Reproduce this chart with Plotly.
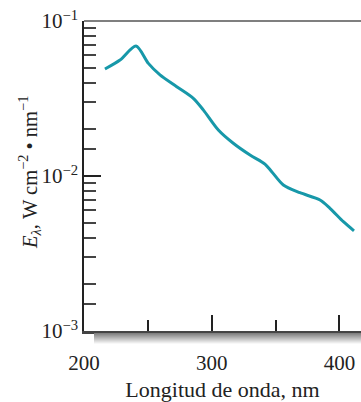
import plotly.graph_objects as go

# Data
wavelength = [216.4, 228.2, 240.7, 250.4, 259.5, 272.6, 285.6, 293.4, 305.2, 316.9,
              330.0, 341.7, 347.0, 356.1, 369.1, 384.8, 392.6, 403.1, 411.4]
irradiance = [0.0490, 0.0560, 0.0690, 0.0533, 0.0449, 0.0377, 0.0317, 0.0267, 0.0198, 0.01626,
              0.01365, 0.01194, 0.01066, 0.00875, 0.00780, 0.00700, 0.00619, 0.00507, 0.00443]

x_tick_vals = [200, 300, 400]
x_tick_text = ["200", "300", "400"]
x_minor_vals = [250, 350]
y_tick_vals = [0.001, 0.01, 0.1]
y_tick_text = ["10<sup>−3</sup>", "10<sup>−2</sup>", "10<sup>−1</sup>"]
y_minor_mult = [1.5, 2, 3, 4, 5, 6, 7, 8, 9]
y_minor_vals = [m * d for d in [0.001, 0.01] for m in y_minor_mult]
y_title = "<i>E</i><sub><i>λ</i></sub>, W cm<sup>−2</sup> • nm<sup>−1</sup>"

FONT = "Liberation Serif"

fig = go.Figure()
fig.add_trace(go.Scatter(
    x=wavelength, y=irradiance, mode="lines",
    line=dict(color="#1798a9", width=3, shape="spline", smoothing=0.8),
    hoverinfo="skip", showlegend=False,
))

shapes = []
# top border line
shapes.append(dict(type="line", xref="paper", yref="paper", x0=0, x1=1, y0=1, y1=1,
                   line=dict(color="#555555", width=1.5)))
# gradient shadow under x-axis
n = 11
for i in range(n):
    g = int(0x80 + (0xf8 - 0x80) * i / (n - 1))
    col = f"rgb({g},{g},{g})"
    shapes.append(dict(type="rect", xref="paper", yref="paper",
                       x0=10 / 277, x1=1, y0=-(2 + i) / 310, y1=-(3 + i) / 310,
                       fillcolor=col, line=dict(width=0), layer="above"))

fig.update_layout(
    width=361, height=402,
    margin=dict(l=84, r=0, t=21, b=71),
    paper_bgcolor="white", plot_bgcolor="white",
    font=dict(family=FONT, color="#222222", size=20),
    shapes=shapes,
    annotations=[dict(text=y_title, textangle=-90, xref="paper", yref="paper",
                      x=0, y=0.5, xanchor="center", yanchor="middle",
                      xshift=-55, yshift=3, showarrow=False,
                      font=dict(family=FONT, size=20.5, color="#222222"))],
    xaxis=dict(
        range=[200, 416.9], showgrid=False, zeroline=False, automargin=False,
        showline=True, linecolor="#444444", linewidth=2.5,
        tickmode="array", tickvals=x_tick_vals, ticktext=x_tick_text,
        ticks="inside", ticklen=16, tickwidth=1.5, tickcolor="#222222",
        tickfont=dict(family=FONT, size=21, color="#222222"),
        minor=dict(tickmode="array", tickvals=x_minor_vals, ticks="inside",
                   ticklen=11, tickwidth=1.5, tickcolor="#222222", showgrid=False),
        title=dict(text="Longitud de onda, nm", font=dict(family=FONT, size=22, color="#222222"),
                   standoff=18),
        ticklabelstandoff=11,
    ),
    yaxis=dict(
        type="log", range=[-3, -1], showgrid=False, zeroline=False, automargin=False,
        showline=True, linecolor="#222222", linewidth=1.5,
        tickmode="array", tickvals=y_tick_vals, ticktext=y_tick_text,
        ticks="inside", ticklen=17, tickwidth=1.5, tickcolor="#222222",
        tickfont=dict(family=FONT, size=21, color="#222222"),
        minor=dict(tickmode="array", tickvals=y_minor_vals, ticks="inside",
                   ticklen=12, tickwidth=1.5, tickcolor="#444444", showgrid=False),
    ),
)

fig.write_html("out.html", config={"displayModeBar": False},
               post_script="document.body.style.margin='0';document.body.style.overflow='hidden';")
